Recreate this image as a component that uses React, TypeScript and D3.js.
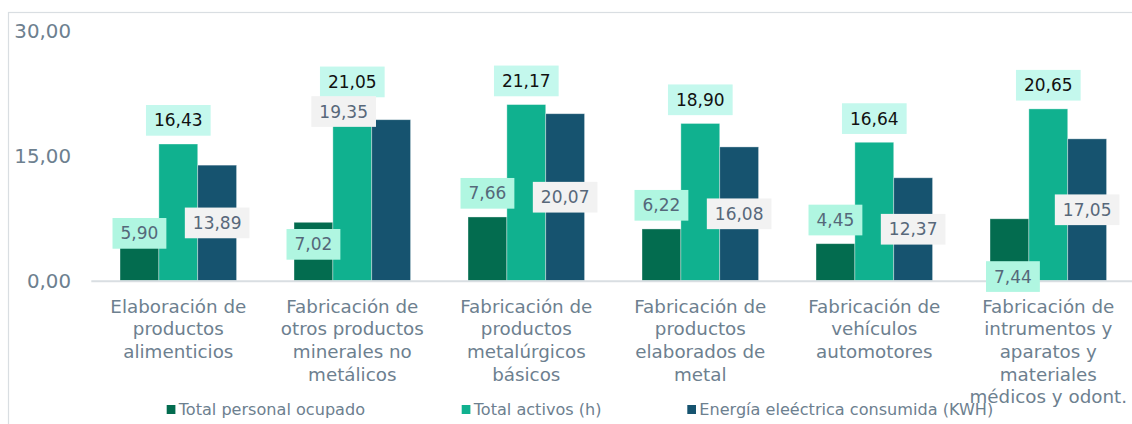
import React from "react";
import * as d3 from "d3";

const categoryLines: string[][] = [
  ["Elaboración de", "productos", "alimenticios"],
  ["Fabricación de", "otros productos", "minerales no", "metálicos"],
  ["Fabricación de", "productos", "metalúrgicos", "básicos"],
  ["Fabricación de", "productos", "elaborados de", "metal"],
  ["Fabricación de", "vehículos", "automotores"],
  ["Fabricación de", "intrumentos y", "aparatos y", "materiales", "médicos y odont."],
];
const categories = categoryLines.map((l) => l.join(" "));

const seriesNames = ["Total personal ocupado", "Total activos (h)", "Energía eleéctrica consumida (KWH)"];
const personal = [5.9, 7.02, 7.66, 6.22, 4.45, 7.44];
const activos = [16.43, 21.05, 21.17, 18.9, 16.64, 20.65];
const energia = [13.89, 19.35, 20.07, 16.08, 12.37, 17.05];
const yTicks = [0, 15, 30];

const seriesValues = [personal, activos, energia];
const barColors = ["#036c4f", "#10b18f", "#16536f"];
const boxFills = ["#b0f6e1", "#c4f8ed", "#f2f2f2"];
const textFills = ["#55687a", "#111111", "#58687a"];
// label placement: "end" = above bar, "center" = mid bar
const labelMode = ["end", "end", "center"];
// manual nudges (px) for labels moved by hand in the original
const labelNudge: Record<string, [number, number]> = {
  "0-0": [0, 25.4],
  "0-1": [0, 45.7],
  "0-5": [3.5, 81.4],
  "2-1": [-47.5, -88.7],
};

const FONT = "'DejaVu Sans', sans-serif";
const fmt = (v: number) => v.toFixed(2).replace(".", ",");

let ctx: CanvasRenderingContext2D | null = null;
function measure(text: string, size: number) {
  if (!ctx) ctx = document.createElement("canvas").getContext("2d");
  if (!ctx) return text.length * size * 0.6;
  ctx.font = `${size}px 'DejaVu Sans'`;
  return ctx.measureText(text).width;
}

export default function App() {
  const W = 1132, H = 424;
  const x0 = d3.scaleBand<string>().domain(categories).range([91.3, 1135.3]).paddingInner(0.33).paddingOuter(0.165);
  const x1 = d3.scaleBand<number>().domain([0, 1, 2]).range([0, x0.bandwidth()]);
  const y = d3.scaleLinear().domain([0, 30]).range([280.7, 31.1]);
  const axisColor = "#6d808f";
  const labelSize = 17;
  const boxH = 30.7;

  return (
    <svg width={W} height={H} style={{ position: "absolute", left: 0, top: 0, fontFamily: FONT }}>
      <rect x={0} y={0} width={W} height={H} fill="#ffffff" />
      <rect x={8.5} y={12.5} width={1300} height={600} fill="none" stroke="#d9dee2" strokeWidth={1.2} />
      {yTicks.map((t) => (
        <text key={t} x={71} y={y(t)} dy="0.36em" textAnchor="end" fontSize={19.8} fill={axisColor}>
          {fmt(t)}
        </text>
      ))}
      {categories.map((c, ci) =>
        seriesValues.map((vals, si) => (
          <rect
            key={`b${ci}-${si}`}
            x={(x0(c) as number) + (x1(si) as number)}
            y={y(vals[ci])}
            width={x1.bandwidth()}
            height={y(0) - y(vals[ci])}
            fill={barColors[si]}
            stroke="#ffffff"
            strokeOpacity={0.45}
            strokeWidth={0.8}
          />
        ))
      )}
      <line x1={91.3} x2={W} y1={y(0) + 0.5} y2={y(0) + 0.5} stroke="#d9dee2" strokeWidth={2} />
      {categories.map((c, ci) =>
        seriesValues.map((vals, si) => {
          const v = vals[ci];
          const cx0 = (x0(c) as number) + (x1(si) as number) + x1.bandwidth() / 2;
          const cy0 = labelMode[si] === "end" ? y(v) - 8.3 - boxH / 2 : y(v / 2);
          const nudge = labelNudge[`${si}-${ci}`] || [0, 0];
          const cx = cx0 + nudge[0];
          const cy = cy0 + nudge[1];
          const txt = fmt(v);
          const bw = measure(txt, labelSize) + 16;
          return (
            <g key={`l${ci}-${si}`}>
              <rect x={cx - bw / 2} y={cy - boxH / 2} width={bw} height={boxH} fill={boxFills[si]} />
              <text x={cx} y={cy} dy="0.36em" textAnchor="middle" fontSize={labelSize} fill={textFills[si]}>
                {txt}
              </text>
            </g>
          );
        })
      )}
      {categoryLines.map((lines, ci) => {
        const cx = (x0(categories[ci]) as number) + x0.bandwidth() / 2;
        return (
          <text key={`c${ci}`} textAnchor="middle" fontSize={18.3} fill={axisColor}>
            {lines.map((ln, li) => (
              <tspan key={li} x={cx} y={306 + li * 22.7} dy="0.36em">
                {ln}
              </tspan>
            ))}
          </text>
        );
      })}
      {seriesNames.map((n, si) => {
        const lx = [166.7, 461.7, 687.3][si];
        return (
          <g key={`lg${si}`}>
            <rect x={lx} y={405} width={8.7} height={9} fill={barColors[si]} />
            <text x={lx + 12} y={409.5} dy="0.36em" fontSize={16.1} fill={axisColor}>
              {n}
            </text>
          </g>
        );
      })}
    </svg>
  );
}
